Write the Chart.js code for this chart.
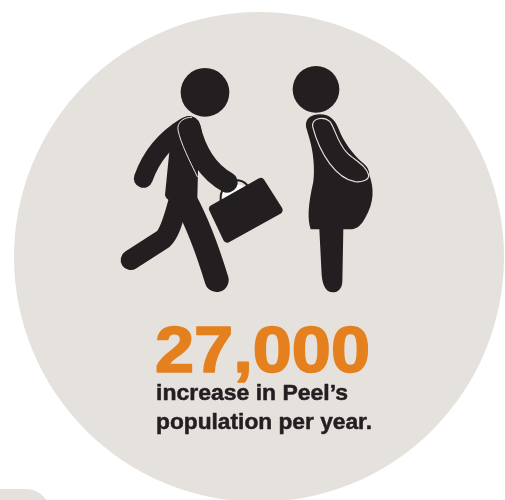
<!DOCTYPE html>
<html>
<head>
<meta charset="utf-8">
<script src="https://cdn.jsdelivr.net/npm/chart.js@4"></script>
<style>
    html, body { margin: 0; padding: 0; background: #fff; overflow: hidden; }
    canvas { display: block; }
</style>
</head>
<body>
<canvas id="peelChart" width="505" height="502"></canvas>
<script>
const categories = ['Peel population increase per year'];
const increaseValues = [27000];
const captionLines = ['increase in Peel’s', 'population per year.'];

const DISC = '#e5e1dd';
const INK = '#231f20';
const ORANGE = '#e5801f';

function stroke_path(ctx, d, width, color) {
    ctx.strokeStyle = color;
    ctx.lineWidth = width;
    ctx.lineCap = 'round';
    ctx.lineJoin = 'round';
    ctx.stroke(new Path2D(d));
}

// stretches a bold line of text sideways so it spans the given width
function fit_text(ctx, text, x, y, width, heft) {
    const natural = ctx.measureText(text).width;
    ctx.save();
    ctx.translate(x, y);
    ctx.scale(width / natural, 1);
    ctx.lineWidth = heft;
    ctx.lineJoin = 'round';
    ctx.strokeStyle = ctx.fillStyle;
    ctx.strokeText(text, 0, 0);
    ctx.fillText(text, 0, 0);
    ctx.restore();
}

// pictogram outlines are written in zoomed coords (3x), hence the scale below
function draw_man(ctx) {
    ctx.save();
    ctx.translate(110, 55);
    ctx.scale(1 / 3, 1 / 3);
    ctx.fillStyle = INK;
    ctx.beginPath();
    ctx.arc(285, 112, 73, 0, Math.PI * 2);
    ctx.fill();

    // case handle
    ctx.fillStyle = '#fff';
    ctx.fill(new Path2D('M336 436 L340 405 L375 385 L412 398 Z'));
    stroke_path(ctx, 'M332 436 C328 402 358 376 385 376 C400 378 410 386 416 398', 6, INK);

    // legs
    stroke_path(ctx, 'M225 435 C255 490 285 560 320 675', 72, INK);
    stroke_path(ctx, 'M205 440 C190 490 182 530 160 552 L62 615', 60, INK);
    // torso
    ctx.fillStyle = INK;
    ctx.fill(new Path2D('M235 183 C205 186 185 230 178 290 L165 420 C170 450 250 455 262 430 L264 350 L275 230 C272 200 255 183 235 183 Z'));
    // arms
    stroke_path(ctx, 'M228 215 C170 250 125 300 100 370', 57, INK);
    stroke_path(ctx, 'M240 215 C255 280 285 345 352 382', 62, INK);
    stroke_path(ctx, 'M262 365 C240 320 212 265 204 225 C200 200 225 186 245 187', 3, DISC);

    // briefcase
    ctx.fillStyle = INK;
    const casePath = new Path2D('M310 462 L452 382 L505 465 L352 550 Z');
    ctx.fill(casePath);
    ctx.strokeStyle = INK;
    ctx.lineWidth = 26;
    ctx.lineJoin = 'round';
    ctx.stroke(casePath);
    ctx.restore();
}

function draw_woman(ctx) {
    ctx.save();
    ctx.translate(280, 55);
    ctx.scale(1 / 3, 1 / 3);
    ctx.fillStyle = INK;
    ctx.beginPath();
    ctx.arc(108, 103, 70, 0, Math.PI * 2);
    ctx.fill();
    ctx.fill(new Path2D('M78 215 C75 190 95 178 120 178 C150 178 165 195 175 220 C190 260 220 300 250 325 C262 335 268 345 268 360 C282 400 284 440 255 490 C245 510 230 522 215 523 L190 523 L187 680 C186 700 175 712 158 712 C140 712 128 695 125 660 L118 523 L92 523 C82 490 84 450 100 380 C105 340 100 290 88 250 Z'));
    stroke_path(ctx, 'M98 215 C95 190 130 182 150 200 C165 220 172 262 200 292 C222 315 258 330 266 360 C268 375 245 382 225 380 C170 370 120 300 98 215 Z', 3.5, DISC);
    ctx.restore();
}

const pictogramPlugin = {
    id: 'pictograms',
    beforeDatasetsDraw(chart) {
        // corner of the next panel peeking in at the bottom left
        const ctx = chart.ctx;
        ctx.save();
        ctx.fillStyle = DISC;
        ctx.beginPath();
        ctx.roundRect(-40, 489, 90, 60, 24);
        ctx.fill();
        ctx.restore();
    },
    afterDatasetsDraw(chart) {
        const ctx = chart.ctx;
        draw_man(ctx);
        draw_woman(ctx);

        ctx.save();
        ctx.textBaseline = 'alphabetic';
        ctx.fillStyle = ORANGE;
        ctx.font = 'bold 64px "Liberation Sans"';
        fit_text(ctx, increaseValues[0].toLocaleString('en-US'), 155, 372, 215, 1.6);
        ctx.fillStyle = INK;
        ctx.font = 'bold 22px "Liberation Sans"';
        fit_text(ctx, captionLines[0], 156, 400, 192, 0.5);
        fit_text(ctx, captionLines[1], 156, 429, 216, 0.5);
        ctx.restore();
    }
};

new Chart(document.getElementById('peelChart'), {
    type: 'pie',
    data: {
        labels: categories,
        datasets: [{
            data: increaseValues,
            backgroundColor: [DISC],
            borderWidth: 0
        }]
    },
    options: {
        responsive: false,
        animation: false,
        layout: { padding: { left: 14, right: 1, top: 12, bottom: 0 } },
        plugins: {
            legend: { display: false },
            title: { display: false },
            tooltip: { enabled: false }
        }
    },
    plugins: [pictogramPlugin]
});
</script>
</body>
</html>
